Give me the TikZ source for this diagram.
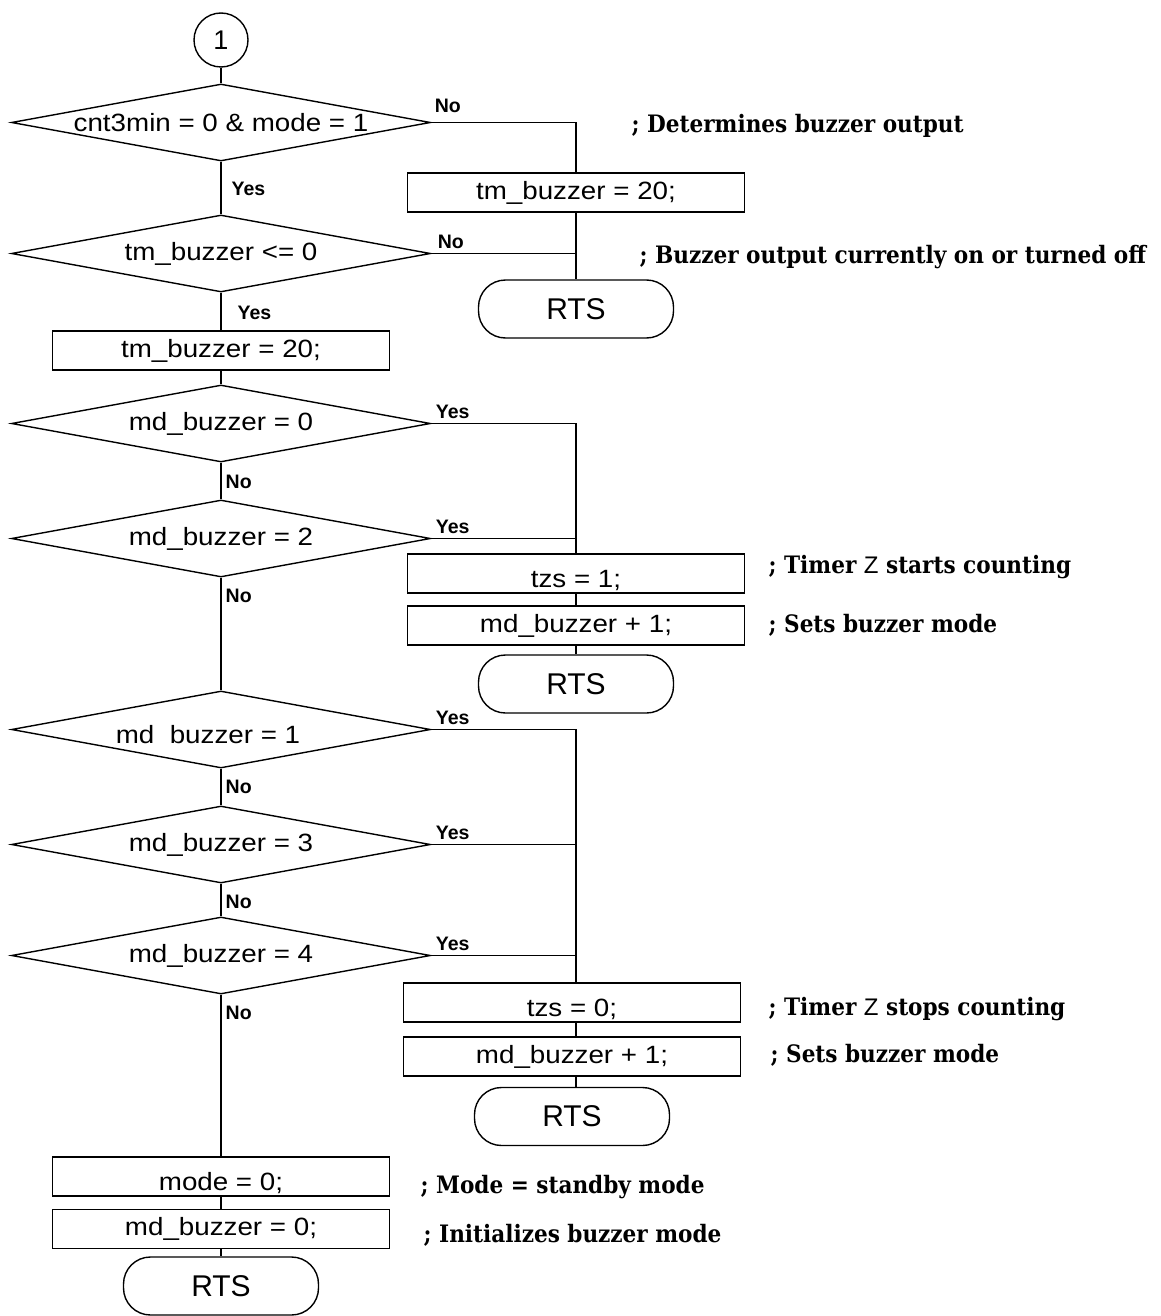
\documentclass[tikz,border=0pt]{standalone}
\usepackage{fontspec}
\setmainfont{Liberation Sans}
\newfontfamily\boxfont[FakeStretch=1.11]{Liberation Sans}
\newfontfamily\cmtfont{DejaVu Serif Condensed}
\usetikzlibrary{shapes.geometric}
\newcommand\lowtext[1]{\raisebox{-7pt}[\height][\depth]{#1}}
\newcommand\dtext[1]{\makebox[0pt]{#1}}

\begin{document}
\begin{tikzpicture}[x=1pt,y=-1pt,line width=1.4pt,
	dec/.style={draw,diamond,minimum width=419pt,minimum height=77pt,inner sep=0pt,font=\boxfont\fontsize{25}{30}\selectfont},
	proc/.style={draw,rectangle,minimum width=337pt,minimum height=39pt,inner sep=0pt,font=\boxfont\fontsize{25}{30}\selectfont},
	term/.style={draw,rectangle,rounded corners=27pt,minimum width=195pt,minimum height=58pt,inner sep=0pt,font=\fontsize{30}{34}\selectfont},
	conn/.style={draw,circle,minimum size=54pt,inner sep=0pt,font=\fontsize{27}{30}\selectfont},
	lbl/.style={font=\bfseries\fontsize{19.5}{22}\selectfont,inner sep=0pt},
	cmt/.style={font=\cmtfont\bfseries\fontsize{24}{28}\selectfont,inner sep=0pt,anchor=base west}]
			\useasboundingbox (0,0) rectangle (1160,1316);
			
			\node[conn] (c1) at (221,40) {1};
			\node[dec] (d1) at (221,122.5) {\dtext{cnt3min = 0 \& mode = 1}};
			\node[dec] (d2) at (221,253.5) {\dtext{tm\_buzzer <= 0}};
			\node[proc] (br1) at (576,192.5) {tm\_buzzer = 20;};
			\node[term] (rts1) at (576,309) {RTS};
			\node[proc] (bl1) at (221,350.5) {tm\_buzzer = 20;};
			
			\node[dec] (d3) at (221,423.5) {\dtext{md\_buzzer = 0}};
			\node[dec] (d4) at (221,538.5) {\dtext{md\_buzzer = 2}};
			\node[proc] (tz1) at (576,573.5) {\lowtext{tzs = 1;}};
			\node[proc] (mb1) at (576,625.5) {md\_buzzer + 1;};
			\node[term] (rts2) at (576,684) {RTS};
			
			\node[dec] (d5) at (221,729.5) {\dtext{\raisebox{-7pt}[\height][\depth]{\hspace{-26pt}md\phantom{\_}buzzer = 1}}};
			\node[dec] (d6) at (221,844.5) {\dtext{md\_buzzer = 3}};
			\node[dec] (d7) at (221,955.5) {\dtext{md\_buzzer = 4}};
			\node[proc] (tz0) at (572,1002.5) {\lowtext{tzs = 0;}};
			\node[proc] (mb2) at (572,1056.5) {md\_buzzer + 1;};
			\node[term] (rts3) at (572,1116.5) {RTS};
			\coordinate (rx) at (576,1002.5);
			
			\node[proc] (bm0) at (221,1176.5) {\lowtext{mode = 0;}};
			\node[proc] (bmd0) at (221,1229) {md\_buzzer = 0;};
			\node[term] (rts4) at (221,1286) {RTS};
			
			\draw (c1) -- (d1); \draw (d1) -- (d2); \draw (d2) -- (bl1); \draw (bl1) -- (d3);
			\draw (d3) -- (d4); \draw (d4) -- (d5); \draw (d5) -- (d6); \draw (d6) -- (d7);
			\draw (d7) -- (bm0); \draw (bm0) -- (bmd0); \draw (bmd0) -- (rts4);
			
			\draw (d1.east) -| (br1.north); \draw (br1) -- (rts1);
			\draw (d2.east) -- (d2.east -| br1.south);
			\draw (d3.east) -| (tz1.north); \draw (tz1) -- (mb1); \draw (mb1) -- (rts2);
			\draw (d4.east) -- (d4.east -| tz1.north);
			\draw (d5.east) -| (tz0.north -| rx);
			\draw (d6.east) -- (d6.east -| rx);
			\draw (d7.east) -- (d7.east -| rx);
			\draw (tz0.south -| rx) -- (mb2.north -| rx);
			\draw (mb2.south -| rx) -- (rts3.north -| rx);
			
			\node[lbl,anchor=base west] at ([shift={(3,-10)}]d1.east) {No};
			\node[lbl,anchor=base west] at ([shift={(6,-5)}]d2.east) {No};
			\node[lbl,anchor=base west] at ([shift={(4,-5)}]d3.east) {Yes};
			\node[lbl,anchor=base west] at ([shift={(4,-5)}]d4.east) {Yes};
			\node[lbl,anchor=base west] at ([shift={(4,-5)}]d5.east) {Yes};
			\node[lbl,anchor=base west] at ([shift={(4,-5)}]d6.east) {Yes};
			\node[lbl,anchor=base west] at ([shift={(4,-5)}]d7.east) {Yes};
			\node[lbl,anchor=west] at ([shift={(10,27)}]d1.south) {Yes};
			\node[lbl,anchor=west] at ([shift={(16,20)}]d2.south) {Yes};
			\node[lbl,anchor=west] at ([shift={(4,19)}]d3.south) {No};
			\node[lbl,anchor=west] at ([shift={(4,18)}]d4.south) {No};
			\node[lbl,anchor=west] at ([shift={(4,18)}]d5.south) {No};
			\node[lbl,anchor=west] at ([shift={(4,18)}]d6.south) {No};
			\node[lbl,anchor=west] at ([shift={(4,18)}]d7.south) {No};
			
			\node[cmt] at (631,133) {; Determines buzzer output};
			\node[cmt] at (639,263) {; Buzzer output currently on or turned off};
			\node[cmt] at (768,573) {; Timer {\normalfont Z} starts counting};
			\node[cmt] at (768,632) {; Sets buzzer mode};
			\node[cmt] at (768,1015) {; Timer {\normalfont Z} stops counting};
			\node[cmt] at (770,1062) {; Sets buzzer mode};
			\node[cmt] at (420,1193) {; Mode = standby mode};
			\node[cmt] at (423,1242) {; Initializes buzzer mode};
			\end{tikzpicture}
\end{document}
